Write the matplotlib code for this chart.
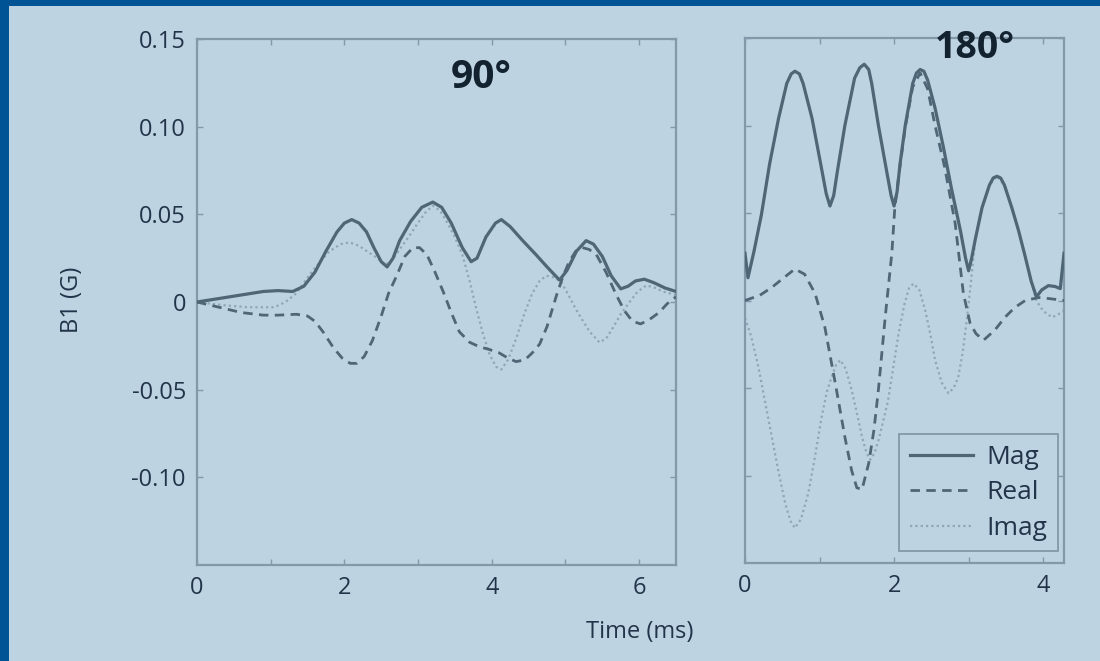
import numpy as np
import matplotlib
matplotlib.use('Agg')
import matplotlib.pyplot as plt
from matplotlib.patches import Rectangle
from matplotlib.ticker import MultipleLocator

plt.rcParams['font.family'] = ['Open Sans', 'DejaVu Sans']

# ---- 90 degree pulse (left panel) ----
t90_mag = [0.0, 0.3, 0.6, 0.9, 1.1, 1.3, 1.45, 1.6, 1.75, 1.9, 2.0, 2.1, 2.2, 2.3, 2.4, 2.5,
           2.58, 2.66, 2.75, 2.9, 3.05, 3.2, 3.32, 3.45, 3.6, 3.72, 3.8, 3.92, 4.05, 4.13,
           4.25, 4.42, 4.6, 4.75, 4.92, 5.02, 5.15, 5.28, 5.38, 5.5, 5.62, 5.75, 5.85,
           5.95, 6.07, 6.2, 6.35, 6.5]
mag90 = [0.0, 0.002, 0.004, 0.006, 0.0065, 0.006, 0.009, 0.017, 0.029, 0.040, 0.045, 0.047,
         0.045, 0.040, 0.031, 0.023, 0.020, 0.025, 0.035, 0.046, 0.054, 0.057, 0.054, 0.045,
         0.031, 0.023, 0.025, 0.037, 0.045, 0.047, 0.043, 0.035, 0.027, 0.020, 0.0125, 0.018,
         0.029, 0.035, 0.033, 0.026, 0.015, 0.0075, 0.009, 0.012, 0.013, 0.011, 0.008, 0.006]

t90_real = [0.0, 0.3, 0.6, 0.9, 1.1, 1.35, 1.5, 1.6, 1.71, 1.85, 1.97, 2.08, 2.17, 2.27, 2.38,
            2.5, 2.6, 2.71, 2.82, 2.93, 3.02, 3.12, 3.23, 3.34, 3.45, 3.56, 3.7, 3.83, 3.96,
            4.1, 4.22, 4.33, 4.45, 4.55, 4.65, 4.75, 4.88, 4.97, 5.05, 5.14, 5.23, 5.32,
            5.42, 5.55, 5.69, 5.8, 5.91, 6.02, 6.14, 6.27, 6.38, 6.5]
real90 = [0.0, -0.003, -0.006, -0.0075, -0.0075, -0.007, -0.008, -0.011, -0.017, -0.026,
          -0.032, -0.035, -0.035, -0.031, -0.022, -0.008, 0.005, 0.015, 0.026, 0.031, 0.031,
          0.027, 0.017, 0.006, -0.006, -0.017, -0.023, -0.0255, -0.027, -0.029, -0.032,
          -0.034, -0.033, -0.029, -0.024, -0.014, 0.004, 0.015, 0.023, 0.029, 0.031, 0.030,
          0.027, 0.017, 0.004, -0.005, -0.011, -0.0125, -0.010, -0.006, -0.001, 0.003]

t90_imag = [0.0, 0.4, 0.7, 1.05, 1.2, 1.35, 1.5, 1.67, 1.8, 1.95, 2.07, 2.2, 2.34, 2.45, 2.55,
            2.65, 2.75, 2.87, 2.98, 3.1, 3.2, 3.3, 3.4, 3.5, 3.6, 3.7, 3.79, 3.88, 3.97,
            4.06, 4.13, 4.22, 4.33, 4.44, 4.55, 4.65, 4.74, 4.85, 4.94, 5.04, 5.14, 5.24,
            5.33, 5.46, 5.55, 5.64, 5.75, 5.87, 5.98, 6.1, 6.22, 6.32, 6.5]
imag90 = [0.0, -0.002, -0.003, -0.003, 0.0, 0.005, 0.014, 0.023, 0.029, 0.033, 0.034, 0.032,
          0.028, 0.025, 0.021, 0.024, 0.030, 0.037, 0.044, 0.051, 0.055, 0.052, 0.045, 0.037,
          0.027, 0.012, -0.004, -0.018, -0.030, -0.037, -0.0385, -0.033, -0.021, -0.007,
          0.005, 0.012, 0.015, 0.014, 0.0115, 0.004, -0.004, -0.011, -0.017, -0.023, -0.021,
          -0.015, -0.007, 0.0, 0.006, 0.0095, 0.008, 0.006, 0.004]

# ---- 180 degree pulse (right panel) ----
t180_mag = [0.0, 0.04, 0.12, 0.22, 0.33, 0.45, 0.56, 0.62, 0.67, 0.73, 0.78, 0.9, 1.02, 1.09,
            1.14, 1.19, 1.24, 1.34, 1.47, 1.54, 1.6, 1.66, 1.7, 1.79, 1.9, 1.96, 2.0, 2.04,
            2.08, 2.15, 2.25, 2.3, 2.35, 2.4, 2.45, 2.55, 2.66, 2.77, 2.89, 2.96, 3.0, 3.04,
            3.09, 3.18, 3.28, 3.33, 3.38, 3.43, 3.48, 3.58, 3.67, 3.76, 3.84, 3.91, 3.98,
            4.07, 4.16, 4.23, 4.28]
mag180 = [0.027, 0.013, 0.028, 0.049, 0.078, 0.104, 0.124, 0.1295, 0.131, 0.1295, 0.124,
          0.104, 0.077, 0.061, 0.054, 0.060, 0.074, 0.100, 0.127, 0.133, 0.135, 0.132, 0.124,
          0.100, 0.074, 0.060, 0.054, 0.062, 0.078, 0.100, 0.124, 0.130, 0.132, 0.131, 0.126,
          0.110, 0.088, 0.064, 0.040, 0.024, 0.017, 0.024, 0.035, 0.053, 0.066, 0.070, 0.071,
          0.070, 0.066, 0.053, 0.040, 0.025, 0.011, 0.002, 0.006, 0.0085, 0.008, 0.0068, 0.027]

t180_real = [0.0, 0.2, 0.36, 0.52, 0.67, 0.8, 0.94, 1.07, 1.21, 1.34, 1.43, 1.5, 1.57, 1.66,
             1.73, 1.79, 1.88, 1.97, 2.01, 2.08, 2.15, 2.25, 2.35, 2.45, 2.55, 2.68, 2.82,
             2.93, 3.02, 3.1, 3.2, 3.35, 3.49, 3.62, 3.76, 3.94, 4.1, 4.28]
real180 = [0.0, 0.003, 0.0075, 0.013, 0.018, 0.015, 0.004, -0.015, -0.047, -0.078, -0.097,
           -0.107, -0.108, -0.093, -0.074, -0.051, -0.010, 0.027, 0.053, 0.077, 0.099, 0.122,
           0.130, 0.121, 0.100, 0.076, 0.044, 0.004, -0.013, -0.019, -0.0227, -0.017, -0.0095,
           -0.004, 0.0, 0.0017, 0.001, 0.0]

t180_imag = [0.0, 0.08, 0.18, 0.27, 0.36, 0.45, 0.54, 0.61, 0.67, 0.75, 0.85, 0.94, 1.03, 1.1,
             1.16, 1.22, 1.28, 1.35, 1.43, 1.5, 1.57, 1.63, 1.68, 1.74, 1.79, 1.86, 1.92,
             1.99, 2.06, 2.14, 2.2, 2.26, 2.34, 2.42, 2.49, 2.55, 2.64, 2.73, 2.8, 2.86, 2.92,
             2.98, 3.03, 3.09, 3.18, 3.28, 3.38, 3.48, 3.58, 3.67, 3.76, 3.84, 3.91, 4.0,
             4.12, 4.2, 4.28]
imag180 = [-0.010, -0.020, -0.038, -0.058, -0.078, -0.098, -0.116, -0.126, -0.130, -0.125,
           -0.110, -0.089, -0.066, -0.052, -0.044, -0.037, -0.034, -0.039, -0.051, -0.064,
           -0.078, -0.087, -0.091, -0.087, -0.080, -0.068, -0.057, -0.038, -0.019, -0.002,
           0.007, 0.0097, 0.006, -0.006, -0.020, -0.034, -0.047, -0.053, -0.050, -0.044,
           -0.030, -0.0096, 0.010, 0.035, 0.053, 0.066, 0.071, 0.066, 0.053, 0.040, 0.025,
           0.011, 0.0, -0.006, -0.0096, -0.008, -0.0057]

ytick_vals = [0.15, 0.10, 0.05, 0.0, -0.05, -0.10]
ytick_text = ['0.15', '0.10', '0.05', '0', '-0.05', '-0.10']

bg = '#bed3e1'
line_col = '#4f6677'
imag_col = '#8ea6b7'
spine_col = '#8399a9'
text_col = '#22344a'

fig = plt.figure(figsize=(11, 6.61), dpi=100, facecolor=bg)
fig.patches.append(Rectangle((0, 1 - 6 / 661), 1, 6 / 661, transform=fig.transFigure,
                             facecolor='#005496', edgecolor='none', zorder=0))
fig.patches.append(Rectangle((0, 0), 9 / 1100, 1, transform=fig.transFigure,
                             facecolor='#005496', edgecolor='none', zorder=0))

ax1 = fig.add_axes([197 / 1100, 96 / 661, 479 / 1100, 526 / 661])
ax2 = fig.add_axes([745 / 1100, 98 / 661, 319 / 1100, 525 / 661])


def draw(ax, tm, m, tr, r, ti, i):
    ax.plot(ti, i, linestyle=(0, (1, 1.4)), color=imag_col, lw=1.6, label='Imag', zorder=2,
            solid_joinstyle='round')
    ax.plot(tr, r, linestyle=(0, (3.4, 2.3)), color=line_col, lw=2.0, label='Real', zorder=3,
            dash_joinstyle='round')
    ax.plot(tm, m, '-', color=line_col, lw=2.3, label='Mag', zorder=4,
            solid_joinstyle='round')


draw(ax1, t90_mag, mag90, t90_real, real90, t90_imag, imag90)
draw(ax2, t180_mag, mag180, t180_real, real180, t180_imag, imag180)

ax1.set_xlim(0, 6.5)
ax2.set_xlim(0, 4.28)
for ax in (ax1, ax2):
    ax.set_facecolor(bg)
    ax.set_ylim(-0.15, 0.15)
    ax.set_yticks(ytick_vals)
    ax.xaxis.set_major_locator(MultipleLocator(2))
    ax.xaxis.set_minor_locator(MultipleLocator(1))
    for s in ax.spines.values():
        s.set_color(spine_col)
        s.set_linewidth(1.6)
    ax.tick_params(which='both', direction='in', length=4, width=1, color=spine_col,
                   top=True, right=True, labelsize=17, labelcolor=text_col, pad=8)

ax1.set_yticklabels(ytick_text)
ax2.set_yticklabels([])
ax1.set_xticks([0, 2, 4, 6])
ax1.set_xticklabels(['0', '2', '4', '6'])
ax2.set_xticks([0, 2, 4])
ax2.set_xticklabels(['0', '2', '4'])

ax1.text(0.593, 0.926, '90°', transform=ax1.transAxes, ha='center', va='center',
         fontsize=28, fontweight='bold', color='#13222f')
ax2.text(0.72, 0.981, '180°', transform=ax2.transAxes, ha='center', va='center',
         fontsize=27, fontweight='bold', color='#13222f')

h, l = ax2.get_legend_handles_labels()
leg = ax2.legend(h[::-1], l[::-1], loc='lower right', bbox_to_anchor=(0.98, 0.022),
                 fontsize=19, handlelength=2.4, handletextpad=0.5, labelspacing=0.4,
                 borderpad=0.4, borderaxespad=0, fancybox=False, framealpha=1,
                 facecolor=bg, edgecolor=spine_col)
leg.get_frame().set_linewidth(1.3)
for txt in leg.get_texts():
    txt.set_color(text_col)

fig.text(72 / 1100, 1 - 300 / 661, 'B1 (G)', rotation=90, ha='center', va='center',
         fontsize=17, color=text_col)
fig.text(640 / 1100, 1 - 632 / 661, 'Time (ms)', ha='center', va='center',
         fontsize=17, color=text_col)

fig.savefig('out.png', dpi=100, facecolor=bg)
